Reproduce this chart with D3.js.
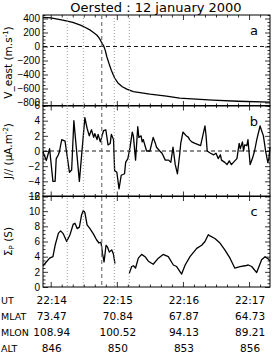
<!DOCTYPE html>
<html>
<head>
<meta charset="utf-8">
<script src="https://cdn.jsdelivr.net/npm/d3@7"></script>
<style>
  body { margin: 0; background: #fff; }
  svg { display: block; font-family: "DejaVu Sans", sans-serif; }
  .tick line { stroke: #000; stroke-width: 0.8; }
  .tick text { font-size: 10px; fill: #000; }
</style>
</head>
<body>
<svg id="chart" width="277" height="358"></svg>
<script>
// time in seconds after 22:14:00 UT
const vTime = [-7, 0, 11, 20, 27, 31, 36, 40, 42, 44, 46, 48, 49.5, 51, 53, 55, 58, 61, 65, 69, 75, 90, 105, 117, 147, 170, 199];
const vEast = [417, 408, 378, 345, 306, 275, 233, 185, 161, 120, 64, 10, -55, -150, -248, -340, -450, -520, -575, -609, -645, -681, -710, -738, -765, -782, -795];

const jTime = [-7, -4, -1, 2, 4, 5, 7, 8, 10, 13, 17, 19, 21, 26, 31, 33, 35, 37, 39, 40, 42, 43, 45, 48, 50, 52, 54, 55, 57, 58, 60, 62, 64, 67, 68, 70, 72, 74, 75, 77, 79, 80, 82, 83, 84, 86, 87, 90, 92, 93, 95, 96, 99, 101, 104, 107, 109, 111, 113, 115, 117, 118, 120, 123, 125, 126, 128, 131, 136, 140, 141, 142, 145, 148, 150, 152, 154, 155, 158, 160, 162, 164, 167, 169, 171, 172, 174, 175, 176, 178, 179, 181, 183, 185, 187, 190, 193, 195, 197, 198, 199];
const jPar = [-0.1, -1.25, 0.3, -4, -4, -1, -0.5, 0, 1.5, 1.3, -2.8, -2.5, 4, -4, 4.4, 3, 2, 2.8, 1.8, 2.3, 1.5, 2.2, 1.2, 2.7, 2.8, 0.8, 1, 2.2, 1.5, -2.6, -2.8, -5, -3.2, -3, -1.5, -1, 0.5, 2.5, 2, -1.2, 3.2, 1.8, 2, 1.2, 1.5, 0.5, 0, 0, 1.2, 1.8, 1, 0.5, 0, -0.3, -1.2, -1.2, -1.5, 0.5, -1.8, -3, -0.5, 1, 2.5, 2, 1.8, 1.5, 1.2, 1, 0.7, 3.3, 2, 0, -0.3, -0.5, -0.3, -1, -0.5, -1.2, -1.5, -1.8, -1.3, -1.8, -1.3, -1, 1, 0.3, 1.2, 0, 0.8, 0.7, 1.5, -1.8, -1, 0, 1.5, 3.3, 2, 0, -1.5, -1, 0.5];

// null marks the data gap
const sTime = [-7, -4, -1, 2, 4, 7, 9, 11.5, 14.5, 17.5, 20.5, 22, 24, 26, 28, 29.6, 31, 33, 35.6, 38.7, 41.7, 43.8, 45.6, 47, 48.4, 50.2, 51.4, 53.2, 55.3, 56.8, 58.3, 65, 71.3, 73.5, 75, 77, 79.5, 82.5, 85.6, 88.6, 93, 97.7, 102, 106.7, 111.3, 114.3, 118.8, 122, 126.4, 132.5, 137, 140, 143, 145, 149, 153.6, 158, 162.7, 167, 171.8, 176.3, 179.3, 182.4, 186.9, 191.4, 194.5, 197.5, 199];
const sigmaP = [2.8, 3.3, 3.8, 4.0, 5.5, 7.1, 7.4, 7.0, 6.0, 6.9, 8.3, 8.4, 7.7, 7.9, 9.5, 10.1, 9.8, 8.2, 7.7, 7.0, 6.2, 5.8, 5.9, 4.4, 3.3, 5.5, 5.3, 4.6, 4.9, 4.4, 3.1, null, 1.8, 2.7, 2.8, 2.5, 3.8, 4.3, 4.0, 3.4, 3.0, 3.8, 4.3, 4.0, 2.9, 2.7, 1.7, 2.9, 4.0, 5.1, 5.5, 6.0, 6.9, 6.7, 6.4, 5.8, 4.9, 3.8, 2.5, 2.7, 2.8, 2.9, 2.7, 1.9, 3.6, 4.0, 3.7, 3.4];

const dottedTimes = [15, 29.6, 57.7, 71.3];
const dashedTime = 46.3;

const tableRows = ["UT", "MLAT", "MLON", "ALT"];
const tableTimes = [0, 60, 120, 180];
const utLabels = ["22:14", "22:15", "22:16", "22:17"];
const mlatLabels = ["73.47", "70.84", "67.87", "64.73"];
const mlonLabels = ["108.94", "100.52", "94.13", "89.21"];
const altLabels = ["846", "850", "853", "856"];

const svg = d3.select("#chart");
const left = 43, right = 270;
const tops = [15, 105.5, 196];
const panelH = 91;

const x = d3.scaleLinear().domain([-7, 199]).range([left, right]);

const panels = [
  { t: vTime, v: vEast, domain: [-850, 450], ticks: d3.range(-800, 401, 200), minor: d3.range(-850, 451, 50), zero: true, letter: "a" },
  { t: jTime, v: jPar, domain: [-6, 6], ticks: d3.range(-6, 7, 2), minor: d3.range(-6, 6.01, 0.5), zero: true, letter: "b" },
  { t: sTime, v: sigmaP, domain: [0, 12], ticks: d3.range(0, 13, 2), minor: d3.range(0, 12.01, 0.5), zero: false, letter: "c" }
];

panels.forEach((p, i) => {
  const top = tops[i], bottom = top + panelH;
  const y = d3.scaleLinear().domain(p.domain).range([bottom, top]);
  const g = svg.append("g");

  // frame
  g.append("rect").attr("x", left).attr("y", top).attr("width", right - left).attr("height", panelH)
    .attr("fill", "none").attr("stroke", "#000").attr("stroke-width", 1);

  // x ticks, inside top and bottom
  [[d3.axisBottom, bottom], [d3.axisTop, top]].forEach(([ax, pos]) => {
    g.append("g").attr("transform", `translate(0,${pos})`)
      .call(ax(x).tickValues(d3.range(0, 199, 60)).tickSize(-5).tickFormat(""))
      .call(a => a.select(".domain").remove());
    g.append("g").attr("transform", `translate(0,${pos})`)
      .call(ax(x).tickValues(d3.range(0, 199, 10).filter(d => d % 60 !== 0)).tickSize(-2.5).tickFormat(""))
      .call(a => a.select(".domain").remove());
  });

  // y ticks
  g.append("g").attr("transform", `translate(${left},0)`)
    .call(d3.axisLeft(y).tickValues(p.ticks).tickSize(-5).tickPadding(3).tickFormat(d3.format("d")))
    .call(a => a.select(".domain").remove());
  g.append("g").attr("transform", `translate(${right},0)`)
    .call(d3.axisRight(y).tickValues(p.ticks).tickSize(-5).tickFormat(""))
    .call(a => a.select(".domain").remove());
  const minors = p.minor.filter(d => !p.ticks.includes(d));
  g.append("g").attr("transform", `translate(${left},0)`)
    .call(d3.axisLeft(y).tickValues(minors).tickSize(-2.5).tickFormat(""))
    .call(a => a.select(".domain").remove());
  g.append("g").attr("transform", `translate(${right},0)`)
    .call(d3.axisRight(y).tickValues(minors).tickSize(-2.5).tickFormat(""))
    .call(a => a.select(".domain").remove());

  if (p.zero) {
    g.append("line").attr("x1", left).attr("x2", right).attr("y1", y(0)).attr("y2", y(0))
      .attr("stroke", "#000").attr("stroke-width", 0.9).attr("stroke-dasharray", "4,3");
  }

  const line = d3.line()
    .defined((d, k) => p.v[k] !== null)
    .x((d, k) => x(p.t[k]))
    .y((d, k) => y(p.v[k]));
  g.append("path").datum(p.t).attr("d", line)
    .attr("fill", "none").attr("stroke", "#000").attr("stroke-width", 1.3).attr("stroke-linejoin", "round");

  g.append("text").attr("x", 254).attr("y", top + 20).attr("text-anchor", "middle")
    .attr("font-size", 13).text(p.letter);
});

// vertical marker lines through all panels
dottedTimes.forEach(t => {
  svg.append("line").attr("x1", x(t)).attr("x2", x(t)).attr("y1", tops[0]).attr("y2", tops[2] + panelH)
    .attr("stroke", "#888").attr("stroke-width", 0.8).attr("stroke-dasharray", "1,2");
});
svg.append("line").attr("x1", x(dashedTime)).attr("x2", x(dashedTime)).attr("y1", tops[0]).attr("y2", tops[2] + panelH)
  .attr("stroke", "#777").attr("stroke-width", 1.2).attr("stroke-dasharray", "4,3");

// title
svg.append("text").attr("x", 156).attr("y", 12).attr("text-anchor", "middle")
  .attr("font-size", 13).text("Oersted : 12 january 2000");

// axis titles
const ytitle = (cy, build) => {
  const t = svg.append("text").attr("transform", `translate(12,${cy}) rotate(-90)`)
    .attr("text-anchor", "middle").attr("font-size", 10.5);
  build(t);
};
ytitle(tops[0] + panelH / 2 + 2, t => {
  t.append("tspan").text("V_east  (m.s");
  t.append("tspan").attr("font-size", 7).attr("dy", -4).text("-1");
  t.append("tspan").attr("dy", 4).text(")");
});
ytitle(tops[1] + panelH / 2, t => {
  t.append("tspan").text("J//  (\u03bcA.m");
  t.append("tspan").attr("font-size", 7).attr("dy", -4).text("-2");
  t.append("tspan").attr("dy", 4).text(")");
});
ytitle(tops[2] + panelH / 2, t => {
  t.append("tspan").text("\u03a3");
  t.append("tspan").attr("font-size", 7).attr("dy", 2).text("P");
  t.append("tspan").attr("dy", -2).text(" (S)");
});

// info table under the plot
const rowsData = [utLabels, mlatLabels, mlonLabels, altLabels];
const rowY = [304, 320, 336, 352];
rowsData.forEach((vals, r) => {
  svg.append("text").attr("x", 1).attr("y", rowY[r]).attr("font-size", 9.5).text(tableRows[r]);
  vals.forEach((v, c) => {
    svg.append("text").attr("x", x(tableTimes[c]) + 1).attr("y", rowY[r])
      .attr("text-anchor", "middle").attr("font-size", 10.5).text(v);
  });
});
</script>
</body>
</html>
